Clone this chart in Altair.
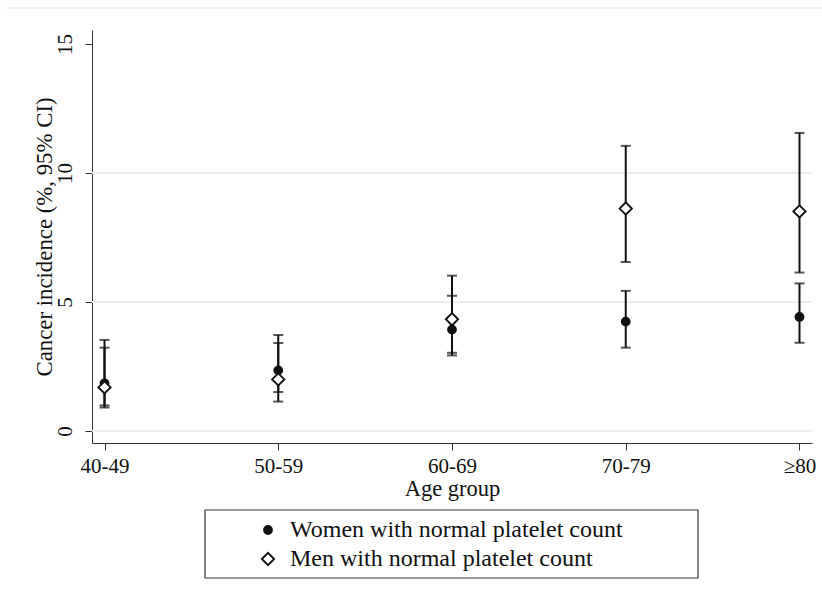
import altair as alt
import pandas as pd

ages = ["40-49", "50-59", "60-69", "70-79", "≥80"]
series_names = ["Women with normal platelet count", "Men with normal platelet count"]
women_est = [1.85, 2.35, 3.93, 4.24, 4.42]
women_lo = [0.99, 1.51, 2.93, 3.23, 3.42]
women_hi = [3.23, 3.41, 5.24, 5.43, 5.72]
men_est = [1.69, 2.00, 4.33, 8.62, 8.51]
men_lo = [0.91, 1.14, 3.03, 6.55, 6.14]
men_hi = [3.53, 3.72, 6.02, 11.05, 11.55]
y_ticks = [0, 5, 10, 15]
gridlines = [0, 5, 10]

rows = []
for name, est, lo, hi in [
    (series_names[0], women_est, women_lo, women_hi),
    (series_names[1], men_est, men_lo, men_hi),
]:
    for a, e, l, h in zip(ages, est, lo, hi):
        rows.append({"age": a, "series": name, "est": e, "lo": l, "hi": h})
df = pd.DataFrame(rows)
grid_df = pd.DataFrame({"g": gridlines})

FONT = "Liberation Serif"
INK = "#111111"

yscale = alt.Scale(domain=[-0.465, 15.54], nice=False, zero=False)
yaxis = alt.Axis(
    values=y_ticks, grid=False, title="Cancer incidence (%, 95% CI)",
    labelAngle=270, labelAlign="center", labelBaseline="alphabetic",
    labelFont=FONT, labelFontSize=21, labelColor=INK, labelPadding=14,
    tickSize=7, tickColor="#333333", tickWidth=1,
    domainColor="#333333", domainWidth=1,
    titleFont=FONT, titleFontSize=22.8, titleFontWeight="normal", titleColor=INK,
    titleAngle=270, titleBaseline="middle", titleAlign="center",
    titleX=-48, titleY=206.5,
)
xscale = alt.Scale(type="point", domain=ages, padding=0.072)
xaxis = alt.Axis(
    title="Age group", labelAngle=0, labelFont=FONT, labelFontSize=21,
    labelColor=INK, labelBaseline="alphabetic", labelPadding=22,
    tickSize=7, tickColor="#333333", tickWidth=1,
    domainColor="#333333", domainWidth=1,
    titleFont=FONT, titleFontSize=22.5, titleFontWeight="normal", titleColor=INK,
    titleBaseline="alphabetic", titlePadding=0, titleY=52,
)


def X():
    return alt.X("age:N", scale=xscale, axis=xaxis)


def Y(field):
    return alt.Y(f"{field}:Q", scale=yscale, axis=yaxis)


grid = alt.Chart(grid_df).mark_rule(color="#E6EEF0", strokeWidth=2).encode(y=Y("g"))

bars = alt.Chart(df).mark_rule(color=INK, strokeWidth=2).encode(
    x=X(), y=Y("lo"), y2="hi"
)
cap_lo = alt.Chart(df).mark_tick(color=INK, size=10, thickness=2, orient="horizontal").encode(
    x=X(), y=Y("lo")
)
cap_hi = alt.Chart(df).mark_tick(color=INK, size=10, thickness=2, orient="horizontal").encode(
    x=X(), y=Y("hi")
)

legend = alt.Legend(
    title=None, orient="none", legendX=164, legendY=488, padding=0,
    labelFont=FONT, labelFontSize=24, labelColor=INK, labelOffset=10,
    rowPadding=5, symbolStrokeColor=INK, symbolStrokeWidth=1.9,
    symbolOpacity=1, labelLimit=600,
)
points = alt.Chart(df).mark_point(
    strokeWidth=1.9, opacity=1, fillOpacity=1, strokeOpacity=1
).encode(
    x=X(), y=Y("est"),
    shape=alt.Shape("series:N", scale=alt.Scale(domain=series_names, range=["circle", "diamond"]), legend=legend),
    fill=alt.Fill("series:N", scale=alt.Scale(domain=series_names, range=[INK, "#ffffff"]), legend=legend),
    stroke=alt.Stroke("series:N", scale=alt.Scale(domain=series_names, range=[INK, INK]), legend=legend),
    size=alt.Size("series:N", scale=alt.Scale(domain=series_names, range=[62, 150]), legend=legend),
)

box = alt.Chart(alt.Data(values=[{}])).mark_rect(
    fill="white", fillOpacity=0, stroke="#333333", strokeWidth=1.2
).encode(x=alt.value(113), x2=alt.value(606), y=alt.value(480), y2=alt.value(548))

topline = alt.Chart(alt.Data(values=[{}])).mark_rule(color="#E3ECEE", strokeWidth=1.5).encode(
    x=alt.value(-85), x2=alt.value(730), y=alt.value(-22)
)

chart = alt.layer(grid, topline, box, bars, cap_lo, cap_hi, points).properties(
    width=720, height=413,
    autosize=alt.AutoSizeParams(type="none"),
    padding={"left": 92, "top": 30, "right": 10, "bottom": 155},
    background="white",
).configure_view(stroke=None)

chart.save("out.html", embed_options={"renderer": "svg", "actions": False})
